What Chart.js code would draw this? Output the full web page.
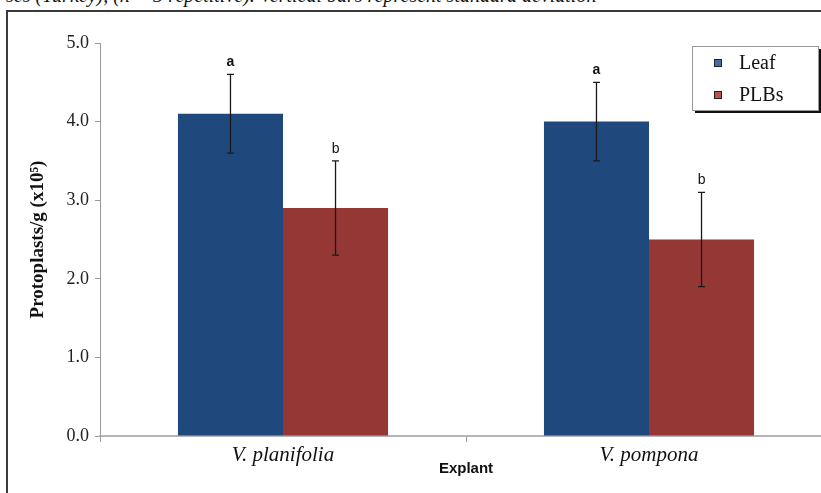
<!DOCTYPE html>
<html>
<head>
<meta charset="utf-8">
<script src="https://cdn.jsdelivr.net/npm/chart.js@4"></script>
<style>
	html, body { margin: 0; padding: 0; background: #fff; overflow: hidden; }
	#page { position: relative; width: 821px; height: 493px; overflow: hidden; }
	#caption {
		position: absolute; left: 6px; top: -16px; white-space: nowrap;
		font-family: "Liberation Serif", serif; font-style: italic; font-size: 20px; color: #111;
	}
	#frame {
		position: absolute; left: 6px; top: 10px; width: 900px; height: 600px;
		border-left: 2px solid #3a3a3a; border-top: 2px solid #3a3a3a;
	}
	#wrap { position: absolute; left: 0; top: 0; width: 860px; height: 493px; }
</style>
</head>
<body>
<div id="page">
	<div id="caption">ses (Turkey), (n = 3 repetitive). Vertical bars represent standard deviation</div>
	<div id="frame"></div>
	<div id="wrap"><canvas id="chart"></canvas></div>
</div>
<script>
// data
var categories = ['V. planifolia', 'V. pompona'];
var leafValues = [4.1, 4.0];
var plbValues  = [2.9, 2.5];
var leafErrors = [0.5, 0.5];
var plbErrors  = [0.6, 0.6];
var leafLetters = ['a', 'a'];
var plbLetters  = ['b', 'b'];
var legendMarkers = ['#3f6ea8', '#c0504d'];

var serif = '"Liberation Serif", "Times New Roman", serif';
var sans  = '"Liberation Sans", Arial, sans-serif';

// error bars + significance letters, placed through the scales
var errorBars = {
	id: 'errorBars',
	afterDatasetsDraw: function (chart) {
		var ctx = chart.ctx;
		var y = chart.scales.y;
		chart.data.datasets.forEach(function (ds, i) {
			var meta = chart.getDatasetMeta(i);
			meta.data.forEach(function (bar, j) {
				var v = ds.data[j], e = ds.errors[j];
				var top = y.getPixelForValue(v + e);
				var bot = y.getPixelForValue(v - e);
				ctx.save();
				ctx.strokeStyle = '#1a1a1a';
				ctx.lineWidth = 1.3;
				ctx.beginPath();
				ctx.moveTo(bar.x, top); ctx.lineTo(bar.x, bot);
				ctx.moveTo(bar.x - 3.5, top); ctx.lineTo(bar.x + 3.5, top);
				ctx.moveTo(bar.x - 3.5, bot); ctx.lineTo(bar.x + 3.5, bot);
				ctx.stroke();
				ctx.fillStyle = '#111';
				ctx.font = (ds.letterBold ? 'bold ' : '') + '14px ' + sans;
				ctx.textAlign = 'center';
				ctx.textBaseline = 'middle';
				ctx.fillText(ds.letters[j], bar.x, top - 12);
				ctx.restore();
			});
		});
	}
};

// boxed legend with drop shadow, top right
var boxLegend = {
	id: 'boxLegend',
	afterDraw: function (chart) {
		var ctx = chart.ctx;
		var x = 692, y = 46, w = 126, h = 64;
		ctx.save();
		ctx.fillStyle = '#111';
		ctx.fillRect(x + 3, y + 3, w, h);
		ctx.fillStyle = '#fff';
		ctx.fillRect(x, y, w, h);
		ctx.strokeStyle = '#999';
		ctx.lineWidth = 1;
		ctx.strokeRect(x + 0.5, y + 0.5, w, h);
		chart.data.datasets.forEach(function (ds, i) {
			var cy = y + 17 + i * 32;
			ctx.fillStyle = legendMarkers[i];
			ctx.fillRect(x + 22, cy - 4, 8, 8);
			ctx.strokeStyle = '#222';
			ctx.strokeRect(x + 22.5, cy - 3.5, 7, 7);
			ctx.fillStyle = '#111';
			ctx.font = '20px ' + serif;
			ctx.textAlign = 'left';
			ctx.textBaseline = 'middle';
			ctx.fillText(ds.label, x + 47, cy + 1);
		});
		ctx.restore();
	}
};

var ctx = document.getElementById('chart').getContext('2d');
new Chart(ctx, {
	type: 'bar',
	data: {
		labels: categories,
		datasets: [
			{ label: 'Leaf', data: leafValues, errors: leafErrors, letters: leafLetters, letterBold: true,
			  backgroundColor: '#1f497d', categoryPercentage: 0.574, barPercentage: 1.0 },
			{ label: 'PLBs', data: plbValues, errors: plbErrors, letters: plbLetters, letterBold: false,
			  backgroundColor: '#953735', categoryPercentage: 0.574, barPercentage: 1.0 }
		]
	},
	plugins: [errorBars, boxLegend],
	options: {
		responsive: true,
		maintainAspectRatio: false,
		animation: false,
		layout: { padding: { left: 8, right: 28, top: 43, bottom: 0 } },
		plugins: { legend: { display: false }, tooltip: { enabled: false } },
		scales: {
			x: {
				afterFit: function (s) { s.height = 57; },
				grid: { drawOnChartArea: false, tickLength: 6, color: '#999', offset: true },
				border: { color: '#b5b5b5', width: 2 },
				ticks: { color: '#111', padding: 1, font: { family: serif, size: 21, style: 'italic' } },
				title: { display: true, text: 'Explant', color: '#111', padding: { top: 0, bottom: 15 },
					font: { family: sans, size: 15, weight: 'bold' } }
			},
			y: {
				min: 0, max: 5,
				afterFit: function (s) { s.width = 92; },
				grid: { drawOnChartArea: false, tickLength: 5, color: '#999' },
				border: { color: '#999', width: 1 },
				ticks: { stepSize: 1, color: '#222', padding: 6,
					font: { family: serif, size: 18 },
					callback: function (v) { return v.toFixed(1); } },
				title: { display: true, text: 'Protoplasts/g (x10\u2075)', color: '#111', padding: { top: 19, bottom: 0 },
					font: { family: serif, size: 19, weight: 'bold' } }
			}
		}
	}
});
</script>
</body>
</html>
